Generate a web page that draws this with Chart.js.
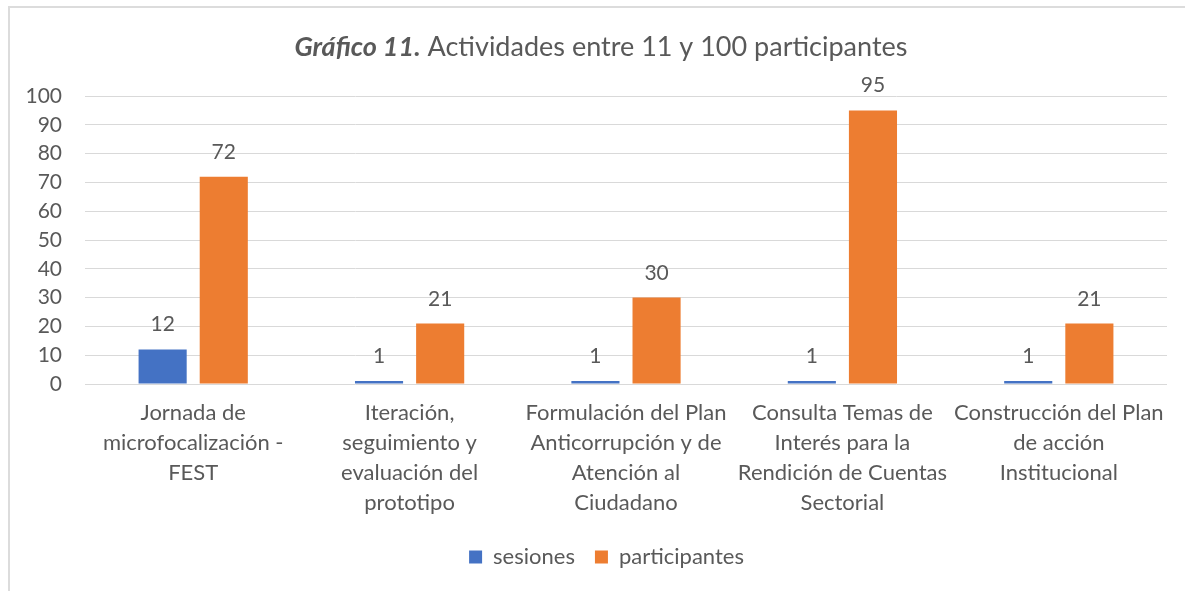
<!DOCTYPE html>
<html>
<head>
<meta charset="utf-8">
<script src="https://cdn.jsdelivr.net/npm/chart.js@4.4.1/dist/chart.umd.min.js"></script>
<style>
  html, body { margin: 0; padding: 0; background: #ffffff; }
  #wrap { position: relative; width: 1185px; height: 591px; overflow: hidden; }
  #frame { position: absolute; left: 8px; top: 6px; width: 1200px; height: 600px;
           border-top: 2px solid #dcdcdc; border-left: 2px solid #dcdcdc; box-sizing: border-box; }
  canvas { position: absolute; left: 0; top: 0; }
</style>
</head>
<body>
<div id="wrap">
  <div id="frame"></div>
  <canvas id="c" width="1185" height="591"></canvas>
</div>
<script>
const titleBold = "Gráfico 11.";
const titleRest = " Actividades entre 11 y 100 participantes";
const categories = [
  ["Jornada de", "microfocalización -", "FEST"],
  ["Iteración,", "seguimiento y", "evaluación del", "prototipo"],
  ["Formulación del Plan", "Anticorrupción y de", "Atención al", "Ciudadano"],
  ["Consulta Temas de", "Interés para la", "Rendición de Cuentas", "Sectorial"],
  ["Construcción del Plan", "de acción", "Institucional"]
];
const sesiones = [12, 1, 1, 1, 1];
const participantes = [72, 21, 30, 95, 21];
const yTicks = [0, 10, 20, 30, 40, 50, 60, 70, 80, 90, 100];

const FONT = "Lato, 'Open Sans', sans-serif";
const TEXT = "#595959";

const titlePlugin = {
  id: 'mixedTitle',
  afterLayout(chart) {
    if (chart.legend) { chart.legend.left = 46; }
  },
  afterDraw(chart) {
    const ctx = chart.ctx;
    ctx.save();
    const boldFont = "italic bold 27px " + FONT;
    const normFont = "27px " + FONT;
    ctx.font = boldFont;
    const w1 = ctx.measureText(titleBold).width;
    ctx.font = normFont;
    const w2 = ctx.measureText(titleRest).width;
    const cx = 601;
    let x = cx - (w1 + w2) / 2;
    const y = 47;
    ctx.textBaseline = 'middle';
    ctx.textAlign = 'left';
    ctx.fillStyle = TEXT;
    ctx.font = boldFont;
    ctx.fillText(titleBold, x, y);
    ctx.font = normFont;
    ctx.fillText(titleRest, x + w1, y);
    ctx.restore();
  }
};

const labelPlugin = {
  id: 'valueLabels',
  afterDatasetsDraw(chart) {
    const ctx = chart.ctx;
    ctx.save();
    ctx.font = "21px " + FONT;
    ctx.fillStyle = TEXT;
    ctx.textAlign = 'center';
    ctx.textBaseline = 'alphabetic';
    chart.data.datasets.forEach((ds, di) => {
      const meta = chart.getDatasetMeta(di);
      meta.data.forEach((bar, i) => {
        ctx.fillText(String(ds.data[i]), bar.x, bar.y - 18);
      });
    });
    ctx.restore();
  }
};

new Chart(document.getElementById('c'), {
  type: 'bar',
  data: {
    labels: categories,
    datasets: [
      { label: 'sesiones', data: sesiones, backgroundColor: '#4472C4',
        barPercentage: 0.787, categoryPercentage: 0.565 },
      { label: 'participantes', data: participantes, backgroundColor: '#ED7D31',
        barPercentage: 0.787, categoryPercentage: 0.565 }
    ]
  },
  options: {
    responsive: false,
    animation: false,
    devicePixelRatio: 1,
    layout: { padding: { left: 0, right: 18, top: 96, bottom: 13 } },
    plugins: {
      title: { display: false },
      tooltip: { enabled: false },
      legend: {
        position: 'bottom',
        labels: {
          font: { family: FONT, size: 22 },
          color: TEXT,
          boxWidth: 13,
          boxHeight: 13,
          padding: 20
        }
      }
    },
    scales: {
      x: {
        grid: { display: false, drawTicks: false },
        border: { display: false },
        ticks: {
          font: { family: FONT, size: 22, lineHeight: '30px' },
          color: TEXT,
          padding: 14,
          maxRotation: 0,
          autoSkip: false
        },
        afterFit(scale) { scale.height = 142; }
      },
      y: {
        min: 0,
        max: 100,
        afterBuildTicks(scale) { scale.ticks = yTicks.map(v => ({ value: v })); },
        grid: { color: '#d9d9d9', lineWidth: 1, drawTicks: false },
        border: { display: false },
        ticks: {
          font: { family: FONT, size: 21 },
          color: TEXT,
          padding: 23
        },
        afterFit(scale) { scale.width = 85; }
      }
    }
  },
  plugins: [titlePlugin, labelPlugin]
});
</script>
</body>
</html>
